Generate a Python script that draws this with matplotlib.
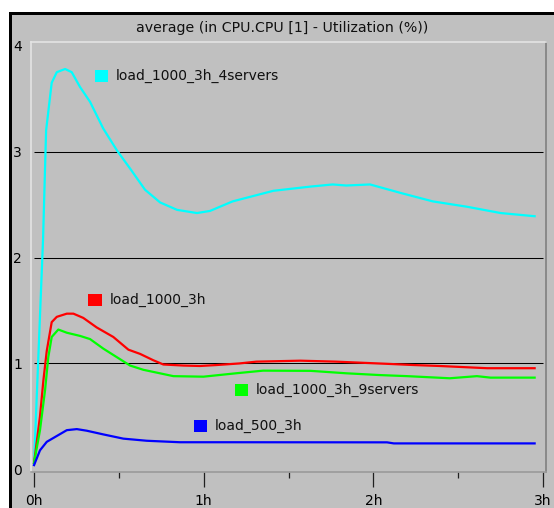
import matplotlib.pyplot as plt
from matplotlib.patches import Rectangle
from matplotlib.ticker import MultipleLocator, FuncFormatter

# values (time in hours, utilization)
cyan_t = [0.0, 0.053, 0.071, 0.104, 0.134, 0.183, 0.222, 0.271, 0.330, 0.407, 0.489,
          0.566, 0.654, 0.743, 0.843, 0.96, 1.037, 1.17, 1.41, 1.63, 1.76, 1.84, 1.98,
          2.16, 2.35, 2.55, 2.75, 2.95]
cyan_v = [0.05, 2.17, 3.2, 3.65, 3.75, 3.78, 3.75, 3.61, 3.47, 3.22, 3.01,
          2.84, 2.64, 2.52, 2.45, 2.42, 2.44, 2.53, 2.63, 2.67, 2.69, 2.68, 2.69,
          2.61, 2.53, 2.48, 2.42, 2.39]

red_t = [0.0, 0.035, 0.055, 0.075, 0.104, 0.134, 0.193, 0.232, 0.29, 0.369, 0.467,
         0.556, 0.625, 0.703, 0.762, 0.88, 0.978, 1.077, 1.21, 1.31, 1.57, 1.78, 2.10,
         2.235, 2.39, 2.67, 2.95]
red_v = [0.06, 0.5, 0.84, 1.12, 1.39, 1.44, 1.47, 1.47, 1.43, 1.34, 1.25,
         1.13, 1.09, 1.03, 0.99, 0.98, 0.976, 0.985, 1.0, 1.017, 1.026, 1.017, 0.995,
         0.985, 0.976, 0.955, 0.955]

green_t = [0.0, 0.035, 0.065, 0.084, 0.104, 0.143, 0.193, 0.271, 0.33, 0.408, 0.487,
           0.566, 0.644, 0.762, 0.821, 0.998, 1.19, 1.35, 1.63, 1.84, 2.04, 2.20, 2.45,
           2.61, 2.69, 2.95]
green_v = [0.06, 0.37, 0.75, 1.06, 1.25, 1.32, 1.29, 1.26, 1.23, 1.14, 1.06,
           0.98, 0.94, 0.90, 0.88, 0.875, 0.907, 0.932, 0.93, 0.907, 0.89, 0.88, 0.86,
           0.88, 0.866, 0.866]

blue_t = [0.0, 0.035, 0.075, 0.134, 0.193, 0.252, 0.31, 0.408, 0.526, 0.664, 0.86,
          1.155, 2.08, 2.12, 2.95]
blue_v = [0.04, 0.18, 0.26, 0.315, 0.37, 0.38, 0.365, 0.33, 0.29, 0.27, 0.256,
          0.256, 0.255, 0.245, 0.245]

series_names = ['load_1000_3h_4servers', 'load_1000_3h', 'load_1000_3h_9servers', 'load_500_3h']
series_colors = ['#00ffff', '#ff0000', '#00ff00', '#0000ff']
series_t = [cyan_t, red_t, green_t, blue_t]
series_v = [cyan_v, red_v, green_v, blue_v]

# where each label sits inside the plot (axes fraction)
label_pos = [(0.1243, 0.921), (0.1113, 0.400), (0.396, 0.190), (0.3165, 0.108)]

grid_levels = [1, 2, 3]
title = 'average (in CPU.CPU [1] - Utilization (%))'

W, H = 554, 508
fig = plt.figure(figsize=(W / 100, H / 100), dpi=100, facecolor='white')

# window frame: black edge then gray panel
fig.add_artist(Rectangle((9 / W, 0), 1, (H - 12) / H, transform=fig.transFigure,
                         facecolor='black', edgecolor='none', zorder=-2))
fig.add_artist(Rectangle((12 / W, 0), 1, (H - 15) / H, transform=fig.transFigure,
                         facecolor='#c0c0c0', edgecolor='none', zorder=-1))

ax = fig.add_axes([31 / W, (H - 472) / H, (546 - 31) / W, (472 - 42) / H])
ax.set_facecolor('#c0c0c0')

ax.hlines(grid_levels, 0, 3, colors='black', linewidth=0.75, zorder=1)

for t, v, c in zip(series_t, series_v, series_colors):
    ax.plot(t, v, color=c, linewidth=1.6, zorder=2)

for (x, y), name, c in zip(label_pos, series_names, series_colors):
    ax.add_patch(Rectangle((x, y - 0.014), 0.026, 0.028, transform=ax.transAxes,
                           facecolor=c, edgecolor='none', zorder=3))
    ax.text(x + 0.041, y, name, transform=ax.transAxes, va='center', ha='left',
            fontsize=10, color='#101010', zorder=3)

ax.set_xlim(-0.018, 3.017)
ax.set_ylim(-0.025, 4.035)

ax.xaxis.set_major_locator(MultipleLocator(1))
ax.xaxis.set_minor_locator(MultipleLocator(0.5))
ax.xaxis.set_major_formatter(FuncFormatter(lambda v, p: f'{int(round(v))}h'))
ax.set_yticks([0, 1, 2, 3, 4])
ax.set_yticklabels(['0', '1', '2', '3', '4'])

ax.tick_params(axis='x', which='major', direction='out', length=10.5, width=0.9,
               color='#202020', labelsize=10, pad=5)
ax.tick_params(axis='x', which='minor', direction='out', length=4.5, width=0.9,
               color='#202020')
ax.tick_params(axis='y', length=0, labelsize=10, pad=6.5)

ax.spines['top'].set_color('#e4e4e4')
ax.spines['left'].set_color('#e4e4e4')
ax.spines['right'].set_color('#808080')
ax.spines['bottom'].set_color('#9a9a9a')
for s in ax.spines.values():
    s.set_linewidth(1.2)

fig.text(282 / W, 1 - 28 / H, title, ha='center', va='center', fontsize=10.2, color='#101010')

fig.savefig('out.png', dpi=100, facecolor='white')
plt.close(fig)
